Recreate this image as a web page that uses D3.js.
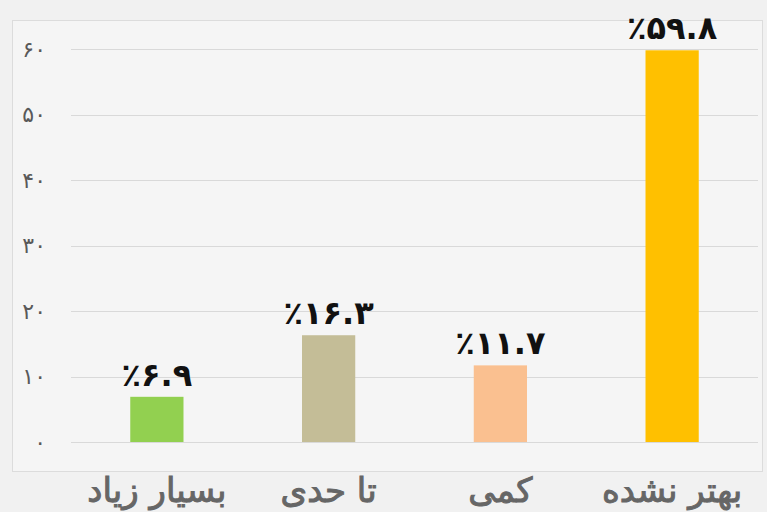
<!DOCTYPE html>
<html><head><meta charset="utf-8">
<script src="https://cdn.jsdelivr.net/npm/d3@7"></script>
<style>
html,body{margin:0;padding:0;background:#f1f1f1;}
svg{display:block;}
</style></head>
<body>
<script>
const categories = ["بسیار زیاد", "تا حدی", "کمی", "بهتر نشده"];
const values = [6.9, 16.3, 11.7, 59.8];
const valueLabels = ["٪۶.۹", "٪۱۶.۳", "٪۱۱.۷", "٪۵۹.۸"];
const colors = ["#92d050", "#c4bd97", "#fac090", "#ffc000"];
const yTicks = [0, 10, 20, 30, 40, 50, 60];
const yTickLabels = ["۰", "۱۰", "۲۰", "۳۰", "۴۰", "۵۰", "۶۰"];

const W = 767, H = 512;
const svg = d3.select("body").append("svg").attr("width", W).attr("height", H);

// panel
svg.append("rect").attr("x", 12.5).attr("y", 20.5).attr("width", 750).attr("height", 451)
  .attr("fill", "#f5f5f5").attr("stroke", "#dcdcdc");

const x = d3.scaleBand().domain(categories).range([71, 758]).paddingInner(0.69).paddingOuter(0.345);
const y = d3.scaleLinear().domain([0, 60]).range([442, 49]);

// gridlines
svg.append("g").selectAll("line").data(yTicks).join("line")
  .attr("x1", 71).attr("x2", 758)
  .attr("y1", d => Math.round(y(d)) + 0.5).attr("y2", d => Math.round(y(d)) + 0.5)
  .attr("stroke", "#d9d9d9").attr("stroke-width", 1.2);

// y axis labels
const yAxis = d3.axisLeft(y).tickValues(yTicks).tickSize(0).tickPadding(0)
  .tickFormat((d, i) => yTickLabels[i]);
const ga = svg.append("g").attr("transform", "translate(46,0)").call(yAxis);
ga.select(".domain").remove();
ga.attr("font-size", null).attr("font-family", null);
ga.selectAll("text").style("font-family", "DejaVu Sans").style("font-size", "22px")
  .attr("fill", "#595959").attr("direction", "ltr");

// bars
svg.append("g").selectAll("rect").data(values).join("rect")
  .attr("x", (d, i) => x(categories[i]))
  .attr("width", x.bandwidth())
  .attr("y", d => y(d))
  .attr("height", d => y(0) - y(d))
  .attr("fill", (d, i) => colors[i]);

// value labels
svg.append("g").selectAll("text").data(values).join("text")
  .attr("x", (d, i) => x(categories[i]) + x.bandwidth() / 2)
  .attr("y", d => y(d) - 11)
  .attr("text-anchor", "middle")
  .attr("direction", "ltr")
  .attr("font-family", "DejaVu Sans").attr("font-weight", "bold").attr("font-size", 32)
  .attr("letter-spacing", 1)
  .attr("fill", "#111")
  .text((d, i) => valueLabels[i]);

// category labels
svg.append("g").selectAll("text").data(categories).join("text")
  .attr("x", d => x(d) + x.bandwidth() / 2)
  .attr("y", 502)
  .attr("text-anchor", "middle")
  .attr("font-family", "DejaVu Sans").attr("font-size", 34)
  .attr("fill", "#666")
  .style("paint-order", "stroke").attr("stroke", "#666").attr("stroke-width", 1)
  .text(d => d);
</script>
</body></html>
